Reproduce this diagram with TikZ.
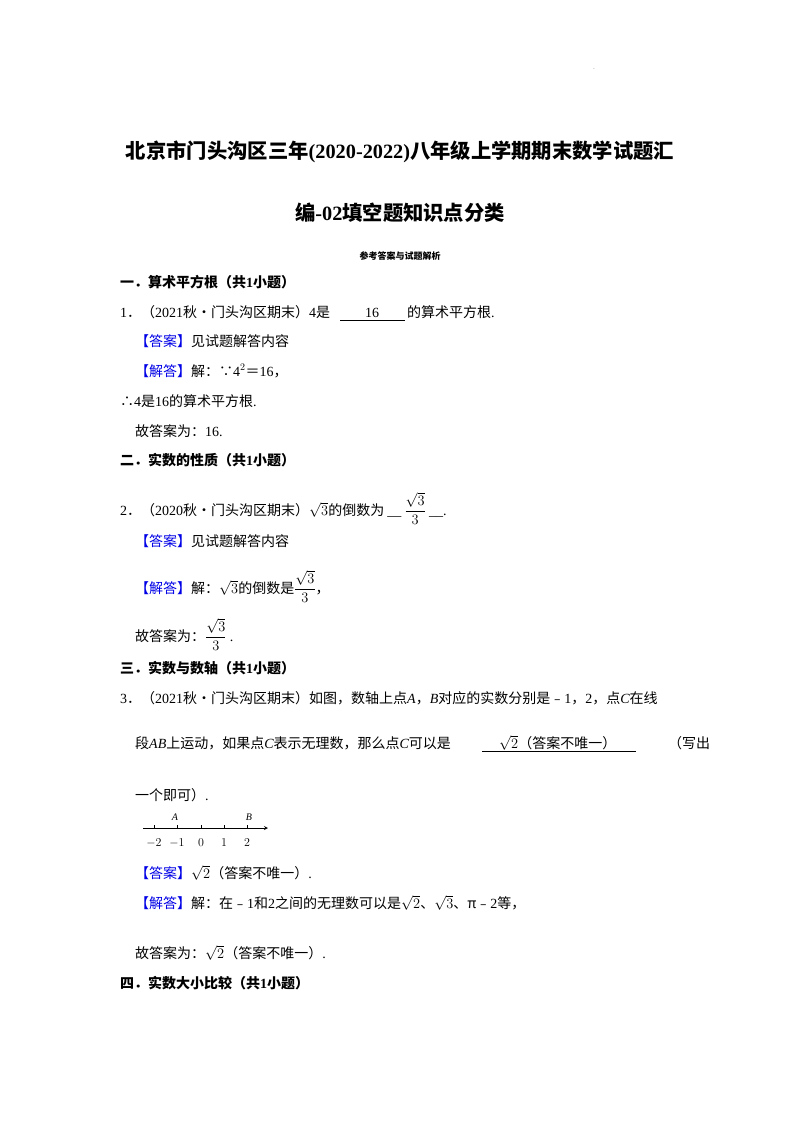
\documentclass[tikz,border=0pt]{standalone}
\usepackage{amsmath}
\usepackage{fontspec}
\setmainfont{Noto Sans CJK SC}
\newfontfamily\lat{Liberation Serif}
\definecolor{ansblue}{RGB}{0,0,230}
\newcommand{\da}{\textcolor{ansblue}{【答案】}}
\newcommand{\jd}{\textcolor{ansblue}{【解答】}}
\begin{document}
\begin{tikzpicture}[x=1pt,y=-1pt,
  t/.style={inner sep=0pt,anchor=base west,font=\fontsize{14}{17}\selectfont},
  hd/.style={t,font=\fontsize{14}{17}\selectfont\bfseries},
  ttl/.style={inner sep=0pt,anchor=base,font=\fontsize{20.3}{25}\selectfont\bfseries}]
\useasboundingbox (0,0) rectangle (800,1132);
\node[inner sep=0pt,anchor=base,font=\tiny] (dot) at (594,70) {.};
\node[ttl] (t1) at (400,158) {北京市门头沟区三年{\lat (2020-2022)}八年级上学期期末数学试题汇};
\node[ttl] (t2) at (400,220) {编{\lat -02}填空题知识点分类};
\node[inner sep=0pt,anchor=base,font=\fontsize{9}{11}\selectfont\bfseries] (sub) at (400,259) {参考答案与试题解析};
\node[hd] (h1) at (120,287) {一．算术平方根（共{\lat 1}小题）};
\node[t] (q1) at (120,317) {{\lat 1}．（{\lat 2021}秋•门头沟区期末）{\lat 4}是};
\node[t,anchor=base] (q1a) at (372,317) {\lat 16};
\draw (340,320) -- (405,320);
\node[t] (q1b) at (407,317) {的算术平方根{\lat .}};
\node[t] (a1) at (135,346) {\da 见试题解答内容};
\node[t] (s1) at (135,376) {\jd 解：∵{\lat 4$^2$}＝{\lat 16}，};
\node[t] (s1b) at (120,406) {∴{\lat 4}是{\lat 16}的算术平方根{\lat .}};
\node[t] (s1c) at (135,436) {故答案为：{\lat 16.}};
\node[hd] (h2) at (120,465) {二．实数的性质（共{\lat 1}小题）};
\node[t] (q2) at (120,515) {{\lat 2}．（{\lat 2020}秋•门头沟区期末）$\sqrt{3}$的倒数为 {\lat \_\_} $\dfrac{\sqrt{3}}{3}$ {\lat \_\_.}};
\node[t] (a2) at (135,546) {\da 见试题解答内容};
\node[t] (s2) at (135,593) {\jd 解：$\sqrt{3}$的倒数是$\dfrac{\sqrt{3}}{3}$，};
\node[t] (s2c) at (135,641) {故答案为：$\dfrac{\sqrt{3}}{3}$ {\lat .}};
\node[hd] (h3) at (120,673) {三．实数与数轴（共{\lat 1}小题）};
\node[t] (q3) at (120,703) {{\lat 3}．（{\lat 2021}秋•门头沟区期末）如图，数轴上点{\lat\itshape A}，{\lat\itshape B}对应的实数分别是﹣{\lat 1}，{\lat 2}，点{\lat\itshape C}在线};
\node[t] (q3b) at (135,748) {段{\lat\itshape AB}上运动，如果点{\lat\itshape C}表示无理数，那么点{\lat\itshape C}可以是};
\node[t] (q3ans) at (499,748) {$\sqrt{2}$（答案不唯一）};
\draw (482,751) -- (636,751);
\node[t] (q3c) at (668,748) {（写出};
\node[t] (q3d) at (135,800) {一个即可）{\lat .}};
% number line
\coordinate (nl0) at (143,828);
\coordinate (nl1) at (268,828);
\draw[-stealth,thick] (nl0) -- (nl1);
\foreach \x/\l [count=\i] in {154/$-2$,177/$-1$,201/$0$,224/$1$,247/$2$}{
  \draw (\x,825) -- (\x,828);
  \node[inner sep=0pt,anchor=base,font=\fontsize{12}{14}\selectfont] (lab\i) at (\x,846) {\l};
}
\node[inner sep=0pt,anchor=base,font=\fontsize{10}{12}\selectfont\lat\itshape] (A) at (175,820) {A};
\node[inner sep=0pt,anchor=base,font=\fontsize{10}{12}\selectfont\lat\itshape] (B) at (249,820) {B};
\node[t] (a3) at (135,878) {\da $\sqrt{2}$（答案不唯一）{\lat .}};
\node[t] (s3) at (135,908) {\jd 解：在﹣{\lat 1}和{\lat 2}之间的无理数可以是$\sqrt{2}$、$\sqrt{3}$、π﹣{\lat 2}等，};
\node[t] (s3c) at (135,958) {故答案为：$\sqrt{2}$（答案不唯一）{\lat .}};
\node[hd] (h4) at (120,988) {四．实数大小比较（共{\lat 1}小题）};
\end{tikzpicture}
\end{document}
